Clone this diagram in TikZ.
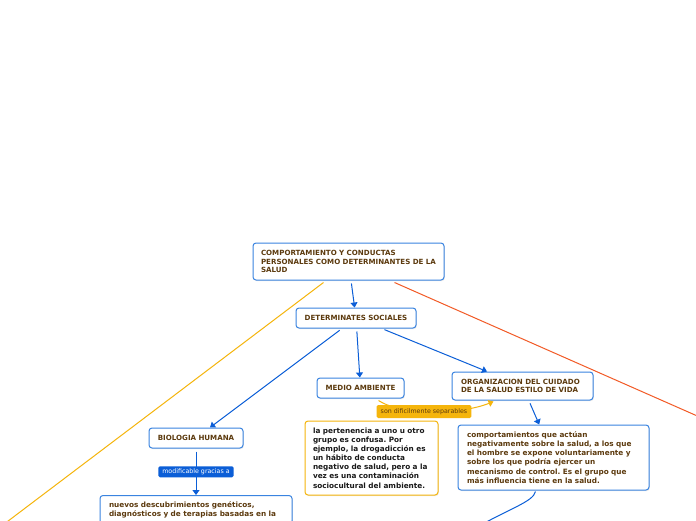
\documentclass[tikz,border=0pt]{standalone}
\usepackage{fontspec}
\setmainfont{DejaVu Sans}
\usetikzlibrary{arrows.meta,positioning,calc,shadows}
\definecolor{accent}{HTML}{3A84E0}
\definecolor{flowc}{HTML}{0B5ED7}
\definecolor{amber}{HTML}{F5B50C}
\definecolor{redline}{HTML}{F25A26}
\definecolor{brownt}{HTML}{5C3A0E}
\tikzset{
  box/.style={draw=accent,line width=1pt,rounded corners=3pt,fill=white,
    drop shadow={opacity=0.18,shadow xshift=0.8pt,shadow yshift=-1pt},
    inner xsep=8pt,inner ysep=4pt,align=left,text=brownt,
    font=\fontsize{7.1}{8.1}\selectfont\bfseries},
  boxc/.style={box,align=center},
  boxa/.style={box,draw=amber,text=black!90},
  body/.style={font=\fontsize{7.3}{9.1}\selectfont\bfseries},
  flow/.style={-{Triangle[length=5pt,width=7pt]},line width=1pt,draw=flowc,shorten <=3pt},
  flowa/.style={flow,draw=amber},
  wire/.style={line width=1pt},
  elabel/.style={font=\fontsize{6.3}{7}\selectfont,inner xsep=4pt,inner ysep=2pt,
    rounded corners=1.5pt,minimum height=11pt},
  modlab/.style={elabel,fill=flowc,text=white},
  seplab/.style={elabel,fill=amber,text=brownt,minimum height=13pt},
}

\begin{document}
\frenchspacing
\begin{tikzpicture}[x=1pt,y=-1pt]
  \useasboundingbox (0,0) rectangle (696,520);
  \fill[white] (0,0) rectangle (696,520);
  % main boxes
  \node[box,text width=175pt,minimum height=37pt](top) at (348.5,261.5)
    {COMPORTAMIENTO Y CONDUCTAS\\PERSONALES COMO DETERMINANTES DE LA\\SALUD};
  \node[boxc,text width=104pt,minimum height=20pt](det) at (356,318){DETERMINATES SOCIALES};
  \node[boxc,text width=71pt,minimum height=20pt](medio) at (360.5,388){MEDIO AMBIENTE};
  \node[box,inner xsep=9pt,text width=123pt,minimum height=28pt](org) at (522.5,386)
    {ORGANIZACION DEL CUIDADO\\DE LA SALUD ESTILO DE VIDA};
  \node[boxc,text width=78pt,minimum height=20pt](bio) at (196,438){BIOLOGIA HUMANA};
  \node[box,body,inner xsep=9pt,inner ysep=6pt,text width=174pt,anchor=north](nuevos) at (196,495)
    {nuevos descubrimientos genéticos,\\diagnósticos y de terapias basadas en la};
  \node[boxa,body,text width=117pt,minimum height=74pt](perten) at (371.5,458)
    {la pertenencia a uno u otro\\grupo es confusa. Por\\ejemplo, la drogadicción es\\un hábito de conducta\\negativo de salud, pero a la\\vez es una contaminación\\sociocultural del ambiente.};
  \node[box,body,inner xsep=9pt,text width=173pt,minimum height=65pt](comp) at (553.5,457.5)
    {comportamientos que actúan\\negativamente sobre la salud, a los que\\el hombre se expone voluntariamente y\\sobre los que podría ejercer un\\mecanismo de control. Es el grupo que\\más influencia tiene en la salud.};
  % free ends off the page
  \coordinate (offl) at (-17,540);
  \coordinate (offr) at (720,426);
  \coordinate (offb) at (470,531);
  % connectors
  \foreach \a/\b in {top/det,det/medio,det/bio,det/org,org/comp}
    \draw[flow](\a)--(\b);
  \draw[flow](bio)--node[modlab]{modificable gracias a}(nuevos);
  \draw[wire,draw=amber]($(top.south)+(-25,2)$)--(offl);
  \draw[wire,draw=redline]($(top.south)+(46,2)$)--(offr);
  \draw[wire,draw=flowc]($(comp.south)+(-18,1)$) .. controls (533,502) and (510,508) .. (offb);
  \draw[flowa,shorten <=0pt]($(medio.south)+(18,2)$) .. controls (400,415) and (460,415) .. ($(org.south west)+(42,1)$);
  \node[seplab](sep) at (424,411.5){son dificilmente separables};
\end{tikzpicture}
\end{document}
